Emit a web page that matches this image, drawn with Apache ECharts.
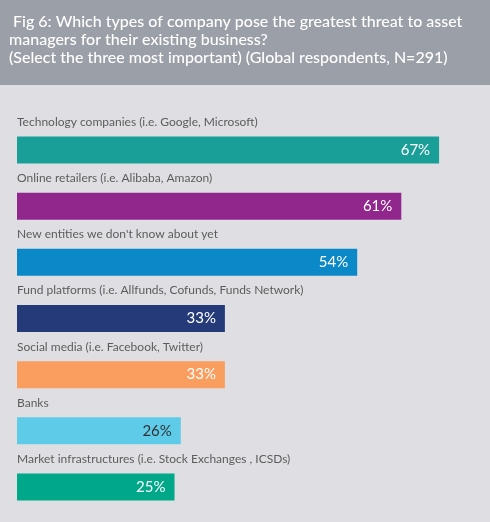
<!DOCTYPE html>
<html lang="en">
<head>
  <meta charset="UTF-8" />
  <title>Fig 6</title>
  <script src="https://cdn.jsdelivr.net/npm/echarts@6.0.0/dist/echarts.min.js"></script>
  <style>
    html, body { margin: 0; padding: 0; background: #dfdfe3; }
    #chart { width: 490px; height: 522px; }
  </style>
</head>
<body>
  <div id="chart"></div>
  <script>
    const categories = [
      'Technology companies (i.e. Google, Microsoft)',
      'Online retailers (i.e. Alibaba, Amazon)',
      "New entities we don't know about yet",
      'Fund platforms (i.e. Allfunds, Cofunds, Funds Network)',
      'Social media (i.e. Facebook, Twitter)',
      'Banks',
      'Market infrastructures (i.e. Stock Exchanges , ICSDs)'
    ];
    const values = [67, 61, 54, 33, 33, 26, 25];
    const barColors = ['#1a9e98', '#91268c', '#0a88c8', '#253a78', '#f99e5e', '#5ecbe8', '#00a88a'];
    const labelColors = ['#fff', '#fff', '#fff', '#fff', '#fff', '#333', '#fff'];

    const font = 'Lato, "Open Sans", sans-serif';
    const chart = echarts.init(document.getElementById('chart'));

    chart.setOption({
      backgroundColor: '#dfdfe3',
      animation: false,
      graphic: [
        { type: 'rect', left: 0, top: 0, shape: { width: 490, height: 85 }, style: { fill: '#9b9fa7' }, z: -1 },
        {
          type: 'text', left: 9, top: 13,
          style: {
            text: ' Fig 6: Which types of company pose the greatest threat to asset\nmanagers for their existing business?\n(Select the three most important) (Global respondents, N=291)',
            fill: '#fff', font: '500 16px ' + font, lineHeight: 18
          }
        }
      ],
      grid: { left: 17, right: 32, top: 122, bottom: 7 },
      xAxis: { type: 'value', min: 0, max: 70, show: false },
      yAxis: {
        type: 'category', inverse: true, data: categories,
        axisLine: { show: false }, axisTick: { show: false }, axisLabel: { show: false }
      },
      series: [
        {
          type: 'bar', barWidth: 27,
          data: values.map((v, i) => ({
            value: v,
            itemStyle: { color: barColors[i] },
            label: { color: labelColors[i] }
          })),
          label: {
            show: true, position: 'insideRight', distance: 9,
            formatter: '{c}%', fontSize: 15, fontFamily: font
          }
        },
        {
          // category names drawn above each bar
          type: 'scatter', symbolSize: 0, silent: true,
          data: categories.map((c, i) => [0, i]),
          label: {
            show: true, position: 'right', distance: 0, offset: [0, -28],
            formatter: p => categories[p.dataIndex],
            color: '#3a3a3a', fontSize: 12, fontFamily: font
          }
        }
      ]
    });
  </script>
</body>
</html>
